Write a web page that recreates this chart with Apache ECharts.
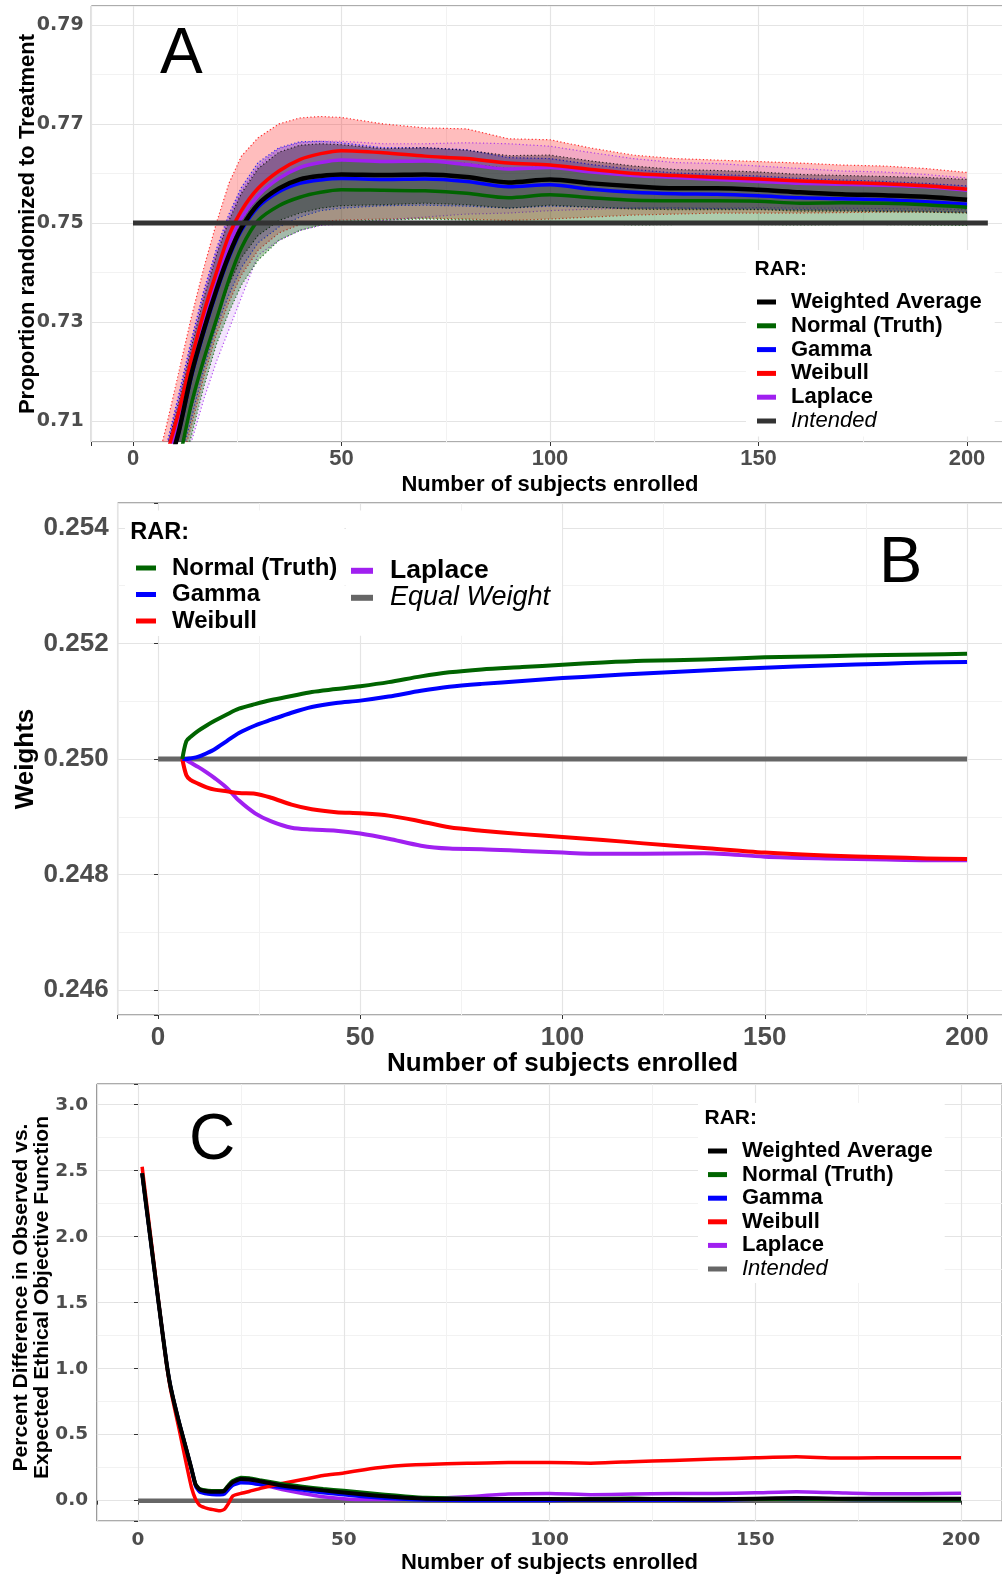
<!DOCTYPE html>
<html>
<head>
<meta charset="utf-8">
<script src="https://cdn.jsdelivr.net/npm/echarts@6/dist/echarts.min.js"></script>
<style>
  html, body { margin: 0; padding: 0; background: #ffffff; }
  #chart { width: 1002px; height: 1575px; }
</style>
</head>
<body>
<div id="chart"></div>
<script>
// ---------- Panel A: proportion randomized to treatment ----------
const enrolledA = [5, 8, 11, 14, 17, 20, 23, 26, 30, 35, 40, 45, 50, 60, 70, 80, 90, 100, 110, 120, 130, 140, 150, 160, 170, 180, 190, 200];

const propWeighted   = [0.690, 0.699, 0.708, 0.7195, 0.7285, 0.7365, 0.7435, 0.749, 0.7538, 0.757, 0.7588, 0.7595, 0.7598, 0.7597, 0.7598, 0.7593, 0.7582, 0.7588, 0.758, 0.7574, 0.757, 0.757, 0.7567, 0.7562, 0.7558, 0.7556, 0.7553, 0.7547];
const propWeightedLo = [0.685, 0.694, 0.703, 0.7125, 0.7225, 0.731, 0.7375, 0.743, 0.7475, 0.7505, 0.752, 0.753, 0.7535, 0.7537, 0.754, 0.7537, 0.753, 0.7536, 0.7532, 0.7528, 0.7527, 0.7527, 0.7527, 0.7524, 0.7524, 0.7523, 0.7522, 0.752];
const propWeightedHi = [0.694, 0.704, 0.714, 0.725, 0.735, 0.7435, 0.7505, 0.756, 0.761, 0.7643, 0.7657, 0.766, 0.7658, 0.765, 0.7652, 0.7647, 0.7636, 0.7637, 0.7625, 0.7615, 0.7608, 0.7606, 0.7603, 0.7598, 0.7596, 0.7594, 0.7592, 0.7588];

const propNormal   = [0.684, 0.693, 0.702, 0.7135, 0.7225, 0.7305, 0.7385, 0.745, 0.7505, 0.7535, 0.7552, 0.7562, 0.7567, 0.7566, 0.7565, 0.756, 0.7551, 0.7557, 0.7551, 0.7546, 0.7545, 0.7545, 0.7544, 0.754, 0.7541, 0.754, 0.7537, 0.7532];
const propNormalLo = [0.680, 0.689, 0.698, 0.707, 0.717, 0.7255, 0.732, 0.7375, 0.7425, 0.7465, 0.7485, 0.7496, 0.7503, 0.7506, 0.7508, 0.7506, 0.7498, 0.7502, 0.75, 0.7496, 0.7497, 0.7497, 0.7497, 0.7496, 0.7497, 0.7497, 0.7496, 0.7495];
const propNormalHi = [0.690, 0.6995, 0.709, 0.7195, 0.7295, 0.738, 0.745, 0.7505, 0.7555, 0.759, 0.7612, 0.7622, 0.7626, 0.7625, 0.7626, 0.762, 0.761, 0.7614, 0.7605, 0.7598, 0.7594, 0.7592, 0.759, 0.7585, 0.7583, 0.758, 0.7577, 0.757];

const propGamma   = [0.690, 0.699, 0.7078, 0.719, 0.728, 0.736, 0.743, 0.7485, 0.7532, 0.7563, 0.758, 0.7587, 0.759, 0.7588, 0.7589, 0.7584, 0.7573, 0.7577, 0.7568, 0.7562, 0.7559, 0.7558, 0.7555, 0.7551, 0.7549, 0.7547, 0.7543, 0.7538];
const propGammaLo = [0.683, 0.692, 0.701, 0.7105, 0.7205, 0.729, 0.7355, 0.741, 0.746, 0.7492, 0.7512, 0.7525, 0.753, 0.7535, 0.7536, 0.7534, 0.753, 0.7534, 0.7532, 0.753, 0.753, 0.7529, 0.7528, 0.7527, 0.7526, 0.7525, 0.7524, 0.7522];
const propGammaHi = [0.695, 0.705, 0.7155, 0.7265, 0.7365, 0.7448, 0.7518, 0.7572, 0.7622, 0.7652, 0.7664, 0.7665, 0.7662, 0.7652, 0.7652, 0.7648, 0.7632, 0.763, 0.7618, 0.7608, 0.7601, 0.7598, 0.7595, 0.759, 0.7587, 0.7584, 0.758, 0.7575];

const propWeibull   = [0.694, 0.703, 0.712, 0.7225, 0.732, 0.740, 0.7475, 0.7525, 0.757, 0.7605, 0.7628, 0.764, 0.7646, 0.7642, 0.7635, 0.763, 0.7621, 0.7617, 0.7608, 0.760, 0.7596, 0.7592, 0.7589, 0.7585, 0.7582, 0.7579, 0.7575, 0.7568];
const propWeibullLo = [0.682, 0.691, 0.700, 0.709, 0.719, 0.7275, 0.734, 0.7395, 0.7445, 0.748, 0.7497, 0.7503, 0.7506, 0.7508, 0.751, 0.7508, 0.7505, 0.7508, 0.7512, 0.7516, 0.7518, 0.752, 0.752, 0.752, 0.7521, 0.7522, 0.7522, 0.7521];
const propWeibullHi = [0.699, 0.709, 0.720, 0.731, 0.741, 0.750, 0.758, 0.7635, 0.7672, 0.770, 0.7712, 0.7715, 0.7713, 0.770, 0.7692, 0.769, 0.767, 0.7668, 0.7651, 0.7637, 0.763, 0.7627, 0.7624, 0.7621, 0.7617, 0.7615, 0.761, 0.7602];

const propLaplace   = [0.692, 0.701, 0.710, 0.7205, 0.730, 0.738, 0.7455, 0.751, 0.7555, 0.759, 0.7612, 0.7622, 0.7627, 0.7624, 0.7625, 0.7618, 0.7609, 0.7612, 0.7603, 0.7596, 0.7592, 0.7588, 0.7584, 0.758, 0.7578, 0.7576, 0.7573, 0.7566];
const propLaplaceLo = [0.676, 0.686, 0.696, 0.7058, 0.7145, 0.722, 0.7285, 0.735, 0.7435, 0.7465, 0.7485, 0.7495, 0.7498, 0.7505, 0.7512, 0.7518, 0.752, 0.7525, 0.7528, 0.753, 0.753, 0.753, 0.7531, 0.753, 0.753, 0.7529, 0.7528, 0.7527];
const propLaplaceHi = [0.695, 0.7045, 0.715, 0.726, 0.736, 0.744, 0.751, 0.7565, 0.7615, 0.765, 0.7662, 0.7665, 0.7665, 0.766, 0.766, 0.7662, 0.766, 0.7655, 0.7642, 0.763, 0.7622, 0.762, 0.7615, 0.761, 0.7605, 0.7603, 0.7598, 0.7591];

const intendedSpanA = [0, 205];
const intendedPropA = 0.75;

// ---------- Panel B: model weights ----------
const enrolledB = [6, 7, 8, 10, 12, 14, 17, 20, 24, 28, 33, 38, 44, 50, 57, 65, 72, 80, 90, 100, 110, 120, 135, 150, 165, 180, 190, 200];
const weightNormal  = [0.25000, 0.25031, 0.25038, 0.25049, 0.25058, 0.25066, 0.25077, 0.25087, 0.25095, 0.25102, 0.25109, 0.25116, 0.25121, 0.25126, 0.25133, 0.25143, 0.25150, 0.25155, 0.25159, 0.25163, 0.25167, 0.25170, 0.25172, 0.25176, 0.25178, 0.25180, 0.25181, 0.25182];
const weightGamma   = [0.25000, 0.25000, 0.25001, 0.25004, 0.25010, 0.25017, 0.25031, 0.25045, 0.25058, 0.25068, 0.25080, 0.25090, 0.25097, 0.25101, 0.25108, 0.25118, 0.25125, 0.25130, 0.25135, 0.25140, 0.25144, 0.25148, 0.25153, 0.25158, 0.25162, 0.25165, 0.25167, 0.25168];
const weightWeibull = [0.25000, 0.24972, 0.24964, 0.24957, 0.24951, 0.24947, 0.24944, 0.24941, 0.24940, 0.24933, 0.24921, 0.24913, 0.24908, 0.24906, 0.24902, 0.24892, 0.24882, 0.24876, 0.24870, 0.24865, 0.24860, 0.24854, 0.24846, 0.24838, 0.24833, 0.24830, 0.24828, 0.24827];
const weightLaplace = [0.25000, 0.24998, 0.24994, 0.24986, 0.24977, 0.24967, 0.24950, 0.24928, 0.24906, 0.24892, 0.24881, 0.24878, 0.24876, 0.24871, 0.24862, 0.24850, 0.24845, 0.24844, 0.24841, 0.24838, 0.24836, 0.24836, 0.24837, 0.24831, 0.24828, 0.24826, 0.24825, 0.24825];
const equalSpanB = [0, 200];
const equalWeightB = 0.25;

// ---------- Panel C: percent difference in ethical objective ----------
const enrolledC = [1, 3, 5, 6, 7, 8, 10, 12, 13, 14, 15, 17, 19, 20, 21, 22, 23, 25, 27, 30, 35, 40, 45, 50, 55, 60, 65, 70, 80, 90, 100, 110, 120, 130, 140, 150, 160, 170, 180, 190, 200];
const diffWeighted = [2.48, 1.99, 1.50, 1.26, 1.03, 0.85, 0.59, 0.36, 0.24, 0.12, 0.085, 0.07, 0.068, 0.068, 0.075, 0.11, 0.14, 0.165, 0.16, 0.145, 0.115, 0.095, 0.078, 0.062, 0.046, 0.033, 0.022, 0.015, 0.012, 0.012, 0.012, 0.010, 0.012, 0.012, 0.010, 0.015, 0.020, 0.015, 0.015, 0.015, 0.015];
const diffNormal   = [2.48, 1.99, 1.50, 1.26, 1.03, 0.85, 0.59, 0.36, 0.24, 0.125, 0.09, 0.078, 0.075, 0.075, 0.08, 0.12, 0.15, 0.175, 0.172, 0.155, 0.128, 0.108, 0.09, 0.077, 0.062, 0.047, 0.034, 0.024, 0.016, 0.015, 0.012, 0.015, 0.018, 0.012, 0.010, 0.010, 0.012, 0.010, 0.008, 0.005, 0.005];
const diffGamma    = [2.48, 1.99, 1.50, 1.26, 1.03, 0.85, 0.59, 0.36, 0.24, 0.11, 0.065, 0.05, 0.045, 0.045, 0.05, 0.085, 0.115, 0.135, 0.133, 0.12, 0.10, 0.08, 0.06, 0.045, 0.03, 0.018, 0.01, 0.005, 0.002, 0.002, 0.002, 0.003, 0.003, 0.003, 0.003, 0.010, 0.010, 0.010, 0.008, 0.008, 0.008];
const diffWeibull  = [2.53, 2.02, 1.51, 1.26, 1.02, 0.83, 0.54, 0.24, 0.10, 0.01, -0.035, -0.06, -0.072, -0.076, -0.065, -0.02, 0.035, 0.055, 0.07, 0.095, 0.13, 0.16, 0.19, 0.21, 0.235, 0.255, 0.268, 0.275, 0.283, 0.29, 0.29, 0.284, 0.295, 0.305, 0.315, 0.325, 0.333, 0.323, 0.325, 0.325, 0.326];
const diffLaplace  = [2.48, 1.99, 1.50, 1.26, 1.03, 0.85, 0.59, 0.36, 0.24, 0.12, 0.075, 0.06, 0.055, 0.055, 0.06, 0.095, 0.125, 0.145, 0.14, 0.12, 0.085, 0.055, 0.03, 0.015, 0.008, 0.008, 0.01, 0.015, 0.03, 0.05, 0.055, 0.045, 0.05, 0.055, 0.055, 0.06, 0.068, 0.06, 0.052, 0.052, 0.056];
const intendedSpanC = [0, 200];
const intendedDiffC = 0;

// ---------- Legend entries ----------
const legendNamesA = ['Weighted Average', 'Normal (Truth)', 'Gamma', 'Weibull', 'Laplace', 'Intended'];
const legendNamesB1 = ['Normal (Truth)', 'Gamma', 'Weibull'];
const legendNamesB2 = ['Laplace', 'Equal Weight'];
const legendNamesC = ['Weighted Average', 'Normal (Truth)', 'Gamma', 'Weibull', 'Laplace', 'Intended'];

// ---------- Styling ----------
const FONT = "'Liberation Sans', Arial, sans-serif";
const WIDE = "'DejaVu Sans', sans-serif";
const TICK_GREY = '#4d4d4d';
const GRID_MAJOR = '#e4e4e4';
const GRID_MINOR = '#f2f2f2';
const MODEL_COLOR = {
  'Weighted Average': '#000000',
  'Normal (Truth)': '#006400',
  'Gamma': '#0000ff',
  'Weibull': '#ff0000',
  'Laplace': '#a020f0'
};
const MODEL_RGB = {
  'Weighted Average': '0,0,0',
  'Normal (Truth)': '0,100,0',
  'Gamma': '0,0,255',
  'Weibull': '255,0,0',
  'Laplace': '160,32,240'
};
const BAND_ALPHA = {
  'Weighted Average': 0.3,
  'Normal (Truth)': 0.32,
  'Gamma': 0.2,
  'Weibull': 0.26,
  'Laplace': 0.12
};
const REF_COLOR_A = '#333333';
const REF_COLOR = '#666666';

const isMultiple = (v, step) => Math.abs(v / step - Math.round(v / step)) < 1e-6;

function pairs(xs, ys) { return xs.map((x, i) => [x, ys[i]]); }

function lineSeries(name, axis, data, color, width, smooth) {
  return {
    type: 'line', name: name, xAxisIndex: axis, yAxisIndex: axis,
    data: data, showSymbol: false, symbol: 'none', smooth: smooth, silent: true,
    lineStyle: { color: color, width: width, cap: 'butt', join: 'round' },
    itemStyle: { color: color }
  };
}

// Confidence band: translucent polygon between lower and upper bounds, dotted edges
function bandSeries(axis, xs, lo, hi, model) {
  const rgb = MODEL_RGB[model];
  const alpha = BAND_ALPHA[model];
  return {
    type: 'custom', xAxisIndex: axis, yAxisIndex: axis, silent: true, clip: true,
    data: xs.map((x, i) => [x, lo[i], hi[i]]),
    encode: { x: 0, y: [1, 2] },
    renderItem: function (params, api) {
      if (params.dataIndexInside !== 0) return;
      const upper = [], lower = [];
      for (let j = 0; j < xs.length; j++) {
        upper.push(api.coord([api.value(0, j), api.value(2, j)]));
        lower.push(api.coord([api.value(0, j), api.value(1, j)]));
      }
      const cs = params.coordSys;
      const edge = { stroke: 'rgba(' + rgb + ',0.8)', lineWidth: 1.2, lineDash: [1.2, 2.4], fill: 'none' };
      return {
        type: 'group',
        clipPath: { type: 'rect', shape: { x: cs.x, y: cs.y, width: cs.width, height: cs.height } },
        children: [
          { type: 'polygon', shape: { points: upper.concat(lower.slice().reverse()) }, style: { fill: 'rgba(' + rgb + ',' + alpha + ')' } },
          { type: 'polyline', shape: { points: upper }, style: edge },
          { type: 'polyline', shape: { points: lower }, style: edge }
        ]
      };
    }
  };
}

function xAxisFor(gridIndex, o) {
  return {
    type: 'value', gridIndex: gridIndex, min: -10, max: 210, minInterval: 50, maxInterval: 50,
    axisLine: { show: false },
    axisTick: { show: true, length: 4, lineStyle: { color: '#333333', width: 1 } },
    axisLabel: {
      margin: o.margin, color: TICK_GREY, fontFamily: o.font, fontSize: o.size, fontWeight: 'bold',
      formatter: v => isMultiple(v, 50) ? String(Math.round(v)) : ''
    },
    splitLine: { show: true, lineStyle: { color: GRID_MAJOR, width: 1.2 } },
    minorTick: { show: false, splitNumber: 2 },
    minorSplitLine: { show: true, lineStyle: { color: GRID_MINOR, width: 1 } },
    name: 'Number of subjects enrolled', nameLocation: 'middle', nameGap: o.nameGap, nameMoveOverlap: false,
    nameTextStyle: { fontFamily: FONT, fontSize: o.nameSize, fontWeight: 'bold', color: '#000000' }
  };
}

function legendData(names, refColor) {
  return names.map(n => ({
    name: n,
    itemStyle: { color: MODEL_COLOR[n] || refColor, borderWidth: 0 }
  }));
}

function legendRich(size, lineHeight, gap, italicSize) {
  return {
    b: { fontFamily: FONT, fontSize: size, fontWeight: 'bold', color: '#000000', lineHeight: lineHeight, padding: [0, 0, 0, gap] },
    i: { fontFamily: FONT, fontSize: italicSize || size, fontWeight: 'normal', fontStyle: 'italic', color: '#000000', lineHeight: lineHeight, padding: [0, 0, 0, gap] }
  };
}

const italicNames = ['Intended', 'Equal Weight'];
const legendFormatter = name => italicNames.indexOf(name) >= 0 ? '{i|' + name + '}' : '{b|' + name + '}';

function legendBlock(names, refColor, pos) {
  return {
    orient: 'vertical', left: pos.left, top: pos.top, padding: pos.padding,
    backgroundColor: '#ffffff', icon: 'rect',
    itemWidth: pos.keyW, itemHeight: pos.keyH, itemGap: pos.gap,
    selectedMode: false, itemStyle: { borderWidth: 0 },
    data: legendData(names, refColor),
    formatter: legendFormatter,
    textStyle: { fontFamily: FONT, fontSize: pos.size, lineHeight: pos.lineHeight, rich: legendRich(pos.size, pos.lineHeight, pos.textGap, pos.italicSize) }
  };
}

function titleText(text, left, top, size, weight) {
  return {
    text: text, left: left, top: top, padding: 0,
    textStyle: { fontFamily: FONT, fontSize: size, fontWeight: weight, color: '#000000', lineHeight: size }
  };
}

function panelGrid(left, top, width, height) {
  return {
    left: left, top: top, width: width, height: height,
    show: true, borderColor: '#595959', borderWidth: 1,
    containLabel: false, outerBoundsMode: 'none'
  };
}

const series = [
  // Panel A: three model lines sit beneath the bands
  lineSeries('Gamma', 0, pairs(enrolledA, propGamma), MODEL_COLOR['Gamma'], 3.5, 0.3),
  lineSeries('Laplace', 0, pairs(enrolledA, propLaplace), MODEL_COLOR['Laplace'], 3.5, 0.3),
  lineSeries('Weibull', 0, pairs(enrolledA, propWeibull), MODEL_COLOR['Weibull'], 3.5, 0.3),
  bandSeries(0, enrolledA, propWeibullLo, propWeibullHi, 'Weibull'),
  bandSeries(0, enrolledA, propLaplaceLo, propLaplaceHi, 'Laplace'),
  bandSeries(0, enrolledA, propGammaLo, propGammaHi, 'Gamma'),
  bandSeries(0, enrolledA, propWeightedLo, propWeightedHi, 'Weighted Average'),
  bandSeries(0, enrolledA, propNormalLo, propNormalHi, 'Normal (Truth)'),
  lineSeries('Normal (Truth)', 0, pairs(enrolledA, propNormal), MODEL_COLOR['Normal (Truth)'], 3.5, 0.3),
  lineSeries('Weighted Average', 0, pairs(enrolledA, propWeighted), MODEL_COLOR['Weighted Average'], 4.5, 0.3),
  lineSeries('Intended', 0, intendedSpanA.map(x => [x, intendedPropA]), REF_COLOR_A, 5, false),

  // Panel B
  lineSeries('Equal Weight', 1, equalSpanB.map(x => [x, equalWeightB]), REF_COLOR, 5, false),
  lineSeries('Laplace', 1, pairs(enrolledB, weightLaplace), MODEL_COLOR['Laplace'], 4, 0.3),
  lineSeries('Weibull', 1, pairs(enrolledB, weightWeibull), MODEL_COLOR['Weibull'], 4, 0.3),
  lineSeries('Gamma', 1, pairs(enrolledB, weightGamma), MODEL_COLOR['Gamma'], 4, 0.3),
  lineSeries('Normal (Truth)', 1, pairs(enrolledB, weightNormal), MODEL_COLOR['Normal (Truth)'], 4, 0.3),

  // Panel C
  lineSeries('Intended', 2, intendedSpanC.map(x => [x, intendedDiffC]), REF_COLOR, 4.5, false),
  lineSeries('Laplace', 2, pairs(enrolledC, diffLaplace), MODEL_COLOR['Laplace'], 3.5, 0.15),
  lineSeries('Gamma', 2, pairs(enrolledC, diffGamma), MODEL_COLOR['Gamma'], 3.5, 0.15),
  lineSeries('Weibull', 2, pairs(enrolledC, diffWeibull), MODEL_COLOR['Weibull'], 3.5, 0.15),
  lineSeries('Normal (Truth)', 2, pairs(enrolledC, diffNormal), MODEL_COLOR['Normal (Truth)'], 3.5, 0.15),
  lineSeries('Weighted Average', 2, pairs(enrolledC, diffWeighted), MODEL_COLOR['Weighted Average'], 4, 0.15)
];

const option = {
  backgroundColor: '#ffffff',
  animation: false,
  grid: [
    panelGrid(91.3, 6, 917.4, 436),
    panelGrid(117.6, 503, 889.9, 512),
    panelGrid(96.85, 1084, 905.3, 437)
  ],
  xAxis: [
    xAxisFor(0, { margin: 6, font: FONT, size: 22, nameGap: 32, nameSize: 22 }),
    xAxisFor(1, { margin: 10, font: FONT, size: 26, nameGap: 35.7, nameSize: 26 }),
    xAxisFor(2, { margin: 9.5, font: WIDE, size: 18.5, nameGap: 30.7, nameSize: 22 })
  ],
  yAxis: [
    {
      type: 'value', gridIndex: 0, min: 0.7058, max: 0.7938, minInterval: 0.01, maxInterval: 0.01,
      axisLine: { show: false },
      axisTick: { show: false },
      axisLabel: {
        margin: 7.6, color: TICK_GREY, fontFamily: WIDE, fontSize: 19, fontWeight: 'bold',
        formatter: v => {
          const k = Math.round(v * 100);
          return (Math.abs(v * 100 - k) < 1e-6 && k % 2 === 1) ? v.toFixed(2) : '';
        }
      },
      splitLine: { show: true, lineStyle: { color: [GRID_MINOR, GRID_MAJOR], width: 1.2 } },
      name: 'Proportion randomized to Treatment', nameLocation: 'middle', nameGap: 52, nameMoveOverlap: false,
      nameTextStyle: { fontFamily: FONT, fontSize: 22, fontWeight: 'bold', color: '#000000' }
    },
    {
      type: 'value', gridIndex: 1, min: 0.24557, max: 0.25443, minInterval: 0.002, maxInterval: 0.002,
      axisLine: { show: false },
      axisTick: { show: true, length: 4, lineStyle: { color: '#333333', width: 1 } },
      axisLabel: {
        margin: 9, color: TICK_GREY, fontFamily: FONT, fontSize: 26, fontWeight: 'bold',
        formatter: v => isMultiple(v, 0.002) ? v.toFixed(3) : ''
      },
      splitLine: { show: true, lineStyle: { color: GRID_MAJOR, width: 1.2 } },
      minorTick: { show: false, splitNumber: 2 },
      minorSplitLine: { show: true, lineStyle: { color: GRID_MINOR, width: 1 } },
      name: 'Weights', nameLocation: 'middle', nameGap: 79, nameMoveOverlap: false,
      nameTextStyle: { fontFamily: FONT, fontSize: 26, fontWeight: 'bold', color: '#000000' }
    },
    {
      type: 'value', gridIndex: 2, min: -0.154, max: 3.157, minInterval: 0.5, maxInterval: 0.5,
      axisLine: { show: false },
      axisTick: { show: true, length: 4, lineStyle: { color: '#333333', width: 1 } },
      axisLabel: {
        margin: 8.8, color: TICK_GREY, fontFamily: WIDE, fontSize: 18.5, fontWeight: 'bold',
        formatter: v => isMultiple(v, 0.5) ? v.toFixed(1) : ''
      },
      splitLine: { show: true, lineStyle: { color: GRID_MAJOR, width: 1.2 } },
      minorTick: { show: false, splitNumber: 2 },
      minorSplitLine: { show: true, lineStyle: { color: GRID_MINOR, width: 1 } },
      name: 'Percent Difference in Observed vs.\nExpected Ethical Objective Function',
      nameLocation: 'middle', nameGap: 44, nameMoveOverlap: false,
      nameTextStyle: { fontFamily: FONT, fontSize: 21, lineHeight: 21, fontWeight: 'bold', color: '#000000', padding: [0, 0, 0, 10] }
    }
  ],
  legend: [
    legendBlock(legendNamesA, REF_COLOR_A, { left: 746, top: 250, padding: [40.5, 13, 4, 11], keyW: 19, keyH: 5, gap: 0.8, size: 22, lineHeight: 23, textGap: 10 }),
    legendBlock(legendNamesB1, REF_COLOR, { left: 125, top: 510.5, padding: [45, 7, 2.5, 11], keyW: 20, keyH: 5, gap: 1.5, size: 24, lineHeight: 25, textGap: 11 }),
    legendBlock(legendNamesB2, REF_COLOR, { left: 346, top: 510.5, padding: [46.8, 12, 24.5, 5], keyW: 22, keyH: 6, gap: 0, size: 26.5, lineHeight: 26, textGap: 12, italicSize: 27 }),
    legendBlock(legendNamesC, REF_COLOR, { left: 698, top: 1103, padding: [36.5, 12, 2.5, 10], keyW: 19, keyH: 5, gap: 0.6, size: 22, lineHeight: 23, textGap: 10 })
  ],
  title: [
    titleText('A', 160, 23, 64, 'normal'),
    titleText('B', 879, 531.6, 65, 'normal'),
    titleText('C', 189, 1109.5, 64, 'normal'),
    titleText('RAR:', 754.5, 258.5, 21, 'bold'),
    titleText('RAR:', 130.3, 520.4, 23.5, 'bold'),
    titleText('RAR:', 704.5, 1107.5, 21, 'bold')
  ],
  series: series
};

const chart = echarts.init(document.getElementById('chart'), null, { renderer: 'canvas' });
chart.setOption(option);
</script>
</body>
</html>
